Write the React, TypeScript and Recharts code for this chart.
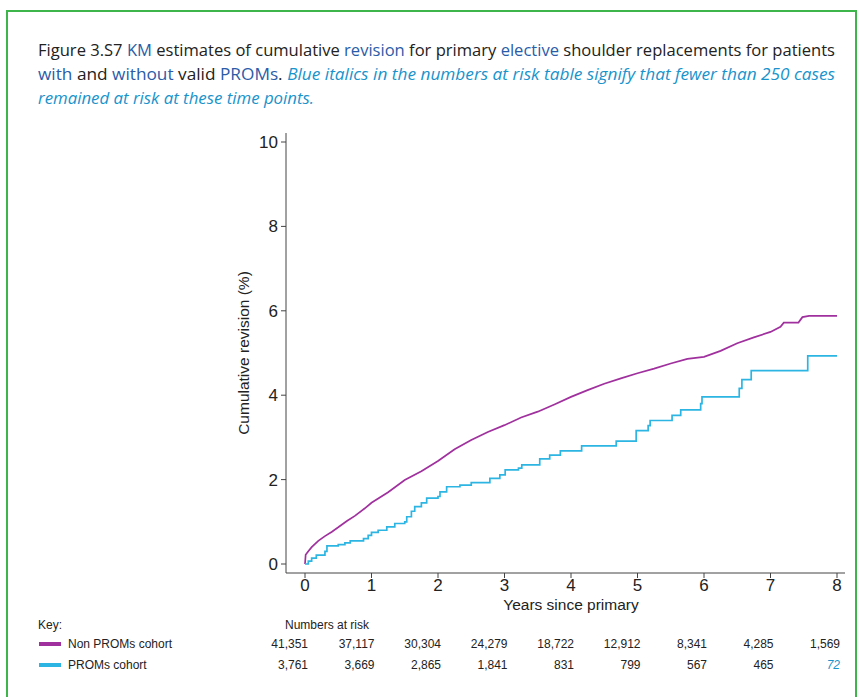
import { LineChart, Line, XAxis, YAxis } from "recharts";

// cumulative revision (%) by years since primary
const nonPromsCurve = [
  { t: 0, v: 0 }, { t: 0.01, v: 0.22 }, { t: 0.05, v: 0.3 }, { t: 0.1, v: 0.4 },
  { t: 0.2, v: 0.55 }, { t: 0.3, v: 0.66 }, { t: 0.4, v: 0.76 }, { t: 0.5, v: 0.87 },
  { t: 0.63, v: 1.02 }, { t: 0.75, v: 1.14 }, { t: 0.9, v: 1.32 }, { t: 1.0, v: 1.45 },
  { t: 1.25, v: 1.7 }, { t: 1.5, v: 1.99 }, { t: 1.75, v: 2.2 }, { t: 2.0, v: 2.44 },
  { t: 2.25, v: 2.72 }, { t: 2.5, v: 2.94 }, { t: 2.75, v: 3.13 }, { t: 3.0, v: 3.29 },
  { t: 3.25, v: 3.47 }, { t: 3.5, v: 3.61 }, { t: 3.75, v: 3.78 }, { t: 4.0, v: 3.96 },
  { t: 4.25, v: 4.12 }, { t: 4.5, v: 4.27 }, { t: 4.75, v: 4.4 }, { t: 5.0, v: 4.52 },
  { t: 5.25, v: 4.63 }, { t: 5.5, v: 4.75 }, { t: 5.75, v: 4.86 }, { t: 6.0, v: 4.91 },
  { t: 6.25, v: 5.05 }, { t: 6.5, v: 5.23 }, { t: 6.75, v: 5.37 }, { t: 7.0, v: 5.5 },
  { t: 7.15, v: 5.62 }, { t: 7.2, v: 5.72 }, { t: 7.42, v: 5.72 }, { t: 7.48, v: 5.85 },
  { t: 7.58, v: 5.88 }, { t: 8.0, v: 5.88 },
];

const promsCurve = [
  { t: 0, v: 0 }, { t: 0.05, v: 0.07 }, { t: 0.1, v: 0.14 }, { t: 0.17, v: 0.21 },
  { t: 0.3, v: 0.3 }, { t: 0.33, v: 0.43 }, { t: 0.5, v: 0.46 }, { t: 0.6, v: 0.5 },
  { t: 0.68, v: 0.55 }, { t: 0.88, v: 0.6 }, { t: 0.95, v: 0.68 }, { t: 1.0, v: 0.75 },
  { t: 1.1, v: 0.8 }, { t: 1.23, v: 0.88 }, { t: 1.35, v: 0.96 }, { t: 1.5, v: 1.0 },
  { t: 1.53, v: 1.12 }, { t: 1.6, v: 1.25 }, { t: 1.65, v: 1.36 }, { t: 1.75, v: 1.45 },
  { t: 1.83, v: 1.56 }, { t: 2.0, v: 1.6 }, { t: 2.03, v: 1.71 }, { t: 2.13, v: 1.83 },
  { t: 2.33, v: 1.87 }, { t: 2.5, v: 1.93 }, { t: 2.78, v: 2.03 }, { t: 2.93, v: 2.11 },
  { t: 3.01, v: 2.23 }, { t: 3.21, v: 2.27 }, { t: 3.26, v: 2.35 }, { t: 3.53, v: 2.49 },
  { t: 3.68, v: 2.58 }, { t: 3.84, v: 2.68 }, { t: 4.16, v: 2.8 }, { t: 4.68, v: 2.91 },
  { t: 4.98, v: 3.16 }, { t: 5.16, v: 3.28 }, { t: 5.19, v: 3.4 }, { t: 5.52, v: 3.52 },
  { t: 5.65, v: 3.65 }, { t: 5.95, v: 3.8 }, { t: 5.97, v: 3.96 }, { t: 6.53, v: 4.16 },
  { t: 6.57, v: 4.37 }, { t: 6.71, v: 4.58 }, { t: 7.56, v: 4.93 }, { t: 8.0, v: 4.93 },
];

const xTicks = [0, 1, 2, 3, 4, 5, 6, 7, 8];
const yTicks = [0, 2, 4, 6, 8, 10];

const nonPromsAtRisk = ["41,351", "37,117", "30,304", "24,279", "18,722", "12,912", "8,341", "4,285", "1,569"];
const promsAtRisk = ["3,761", "3,669", "2,865", "1,841", "831", "799", "567", "465", "72"];
const promsSmall = [false, false, false, false, false, false, false, false, true];

const MAGENTA = "#a0309e";
const CYAN = "#2cb5e2";
const DARK_BLUE = "#2a5ca8";
const LIGHT_BLUE = "#1893cb";
const TEXT = "#222";
const SANS = "'Liberation Sans', Arial, sans-serif";

// x position of a year on the chart (same as axis layout below)
const yearX = (t: number) => 305 + t * 66.5;

export default function App() {
  return (
    <div style={{ position: "absolute", left: 0, top: 0, width: 861, height: 697, background: "#fff", overflow: "hidden" }}>
      <div style={{ position: "absolute", left: 0, top: 0 }}>
        <LineChart width={861} height={697} margin={{ top: 133, right: 16, bottom: 94, left: 0 }}>
          <XAxis
            type="number"
            dataKey="t"
            domain={[0, 8]}
            ticks={xTicks}
            padding={{ left: 19, right: 8 }}
            height={30}
            tickSize={5}
            tickMargin={1}
            axisLine={{ stroke: "#444" }}
            tickLine={{ stroke: "#444" }}
            tick={{ fill: TEXT, fontSize: 17, fontFamily: SANS }}
            allowDuplicatedCategory={false}
          />
          <YAxis
            type="number"
            dataKey="v"
            domain={[0, 10]}
            ticks={yTicks}
            padding={{ top: 9, bottom: 9 }}
            width={286}
            tickSize={5}
            tickMargin={3}
            axisLine={{ stroke: "#444" }}
            tickLine={{ stroke: "#444" }}
            tick={{ fill: TEXT, fontSize: 17, fontFamily: SANS }}
          />
          <Line data={nonPromsCurve} dataKey="v" type="linear" stroke={MAGENTA} strokeWidth={1.7} dot={false} isAnimationActive={false} />
          <Line data={promsCurve} dataKey="v" type="stepAfter" stroke={CYAN} strokeWidth={1.7} dot={false} isAnimationActive={false} />
        </LineChart>
      </div>
      <svg width={861} height={697} style={{ position: "absolute", left: 0, top: 0, pointerEvents: "none" }}>
        <rect x={7} y={11} width={849} height={700} fill="none" stroke="#3db54a" strokeWidth={2} />
        <g fontFamily="'Open Sans', Lato, sans-serif" fontSize={17} fill={TEXT}>
          <text x={38} y={56} textLength={797} lengthAdjust="spacingAndGlyphs">
            <tspan>Figure 3.S7 </tspan>
            <tspan fill={DARK_BLUE}>KM</tspan>
            <tspan> estimates of cumulative </tspan>
            <tspan fill={DARK_BLUE}>revision</tspan>
            <tspan> for primary </tspan>
            <tspan fill={DARK_BLUE}>elective</tspan>
            <tspan> shoulder replacements for patients</tspan>
          </text>
          <text x={38} y={80} textLength={797} lengthAdjust="spacingAndGlyphs">
            <tspan fill={DARK_BLUE}>with</tspan>
            <tspan> and </tspan>
            <tspan fill={DARK_BLUE}>without</tspan>
            <tspan> valid </tspan>
            <tspan fill={DARK_BLUE}>PROMs</tspan>
            <tspan>. </tspan>
            <tspan fill={LIGHT_BLUE} fontStyle="italic">Blue italics in the numbers at risk table signify that fewer than 250 cases</tspan>
          </text>
          <text x={38} y={104} textLength={276} lengthAdjust="spacingAndGlyphs" fill={LIGHT_BLUE} fontStyle="italic">
            remained at risk at these time points.
          </text>
        </g>
        <g fontFamily={SANS} fill={TEXT}>
          <text x={243} y={353} fontSize={15.5} textAnchor="middle" transform="rotate(-90 243 353)" dominantBaseline="central">
            Cumulative revision (%)
          </text>
          <text x={571} y={610} fontSize={15.5} textAnchor="middle">Years since primary</text>
        </g>
        <g fontFamily={SANS} fontSize={12} fill={TEXT}>
          <text x={38} y={629}>Key:</text>
          <text x={327} y={629} textAnchor="middle">Numbers at risk</text>
          <line x1={39} x2={61} y1={644} y2={644} stroke={MAGENTA} strokeWidth={4} />
          <text x={68} y={648}>Non PROMs cohort</text>
          <line x1={39} x2={61} y1={665} y2={665} stroke={CYAN} strokeWidth={4} />
          <text x={68} y={669}>PROMs cohort</text>
          {nonPromsAtRisk.map((n, i) => (
            <text key={"a" + i} x={yearX(xTicks[i]) + 3} y={648} textAnchor="end">{n}</text>
          ))}
          {promsAtRisk.map((n, i) => (
            <text
              key={"b" + i}
              x={yearX(xTicks[i]) + 3}
              y={669}
              textAnchor="end"
              fill={promsSmall[i] ? LIGHT_BLUE : TEXT}
              fontStyle={promsSmall[i] ? "italic" : "normal"}
            >
              {n}
            </text>
          ))}
        </g>
      </svg>
    </div>
  );
}
